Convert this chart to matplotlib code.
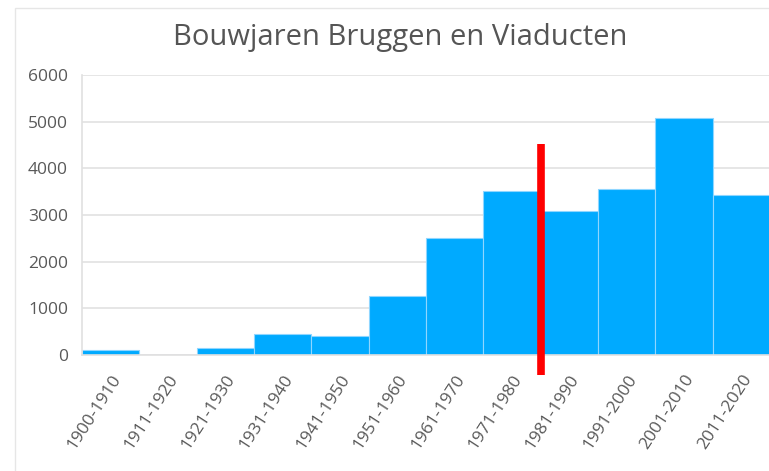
import matplotlib.pyplot as plt
from matplotlib.patches import Rectangle

periods = ['1900-1910', '1911-1920', '1921-1930', '1931-1940', '1941-1950',
           '1951-1960', '1961-1970', '1971-1980', '1981-1990', '1991-2000',
           '2001-2010', '2011-2020']
counts = [110, 0, 160, 450, 420, 1265, 2505, 3520, 3080, 3555, 5070, 3420]
yticks = [0, 1000, 2000, 3000, 4000, 5000, 6000]

# rode markering tussen 1971-1980 en 1981-1990
marker_x = 7.5
marker_y = (-430, 4520)

plt.rcParams['font.family'] = ['Open Sans', 'DejaVu Sans']

fig = plt.figure(figsize=(7.69, 4.71), dpi=100)
ax = fig.add_axes([0.1066, 0.246, 0.8947, 0.595])

# lichtgrijze kader rond de grafiek
fig.patches.append(Rectangle((15 / 769, -0.1), 1.2, 1 - 8 / 471 + 0.1,
                             transform=fig.transFigure, fill=False,
                             edgecolor='#e6e6e6', linewidth=1))

x = range(len(periods))
ax.bar(x, counts, width=1.0, color='#00aaff', edgecolor='#8fd6ff',
       linewidth=0.8, zorder=2)

ax.set_xlim(-0.5, len(periods) - 0.5)
ax.set_ylim(0, 6000)
ax.set_yticks(yticks)
ax.set_yticklabels([str(v) for v in yticks], fontsize=12.5, color='#595959')
ax.grid(axis='y', color='#e2e2e2', linewidth=1.2, zorder=0)
ax.set_xticks(list(x))
ax.set_xticklabels(periods, rotation=57, ha='right', rotation_mode='anchor',
                   fontsize=12.5, color='#595959')
ax.tick_params(length=0, pad=10)
ax.tick_params(axis='x', pad=12)

for side in ['top', 'right']:
    ax.spines[side].set_visible(False)
for side in ['left', 'bottom']:
    ax.spines[side].set_color('#e0e0e0')
    ax.spines[side].set_linewidth(1.2)

ax.plot([marker_x, marker_x], marker_y, color='#ff0000', linewidth=5.5,
        solid_capstyle='butt', clip_on=False, zorder=5)

fig.text(0.52, 0.92, 'Bouwjaren Bruggen en Viaducten', ha='center',
         va='center', fontsize=21, color='#555555')

fig.savefig('out.png', dpi=100)
